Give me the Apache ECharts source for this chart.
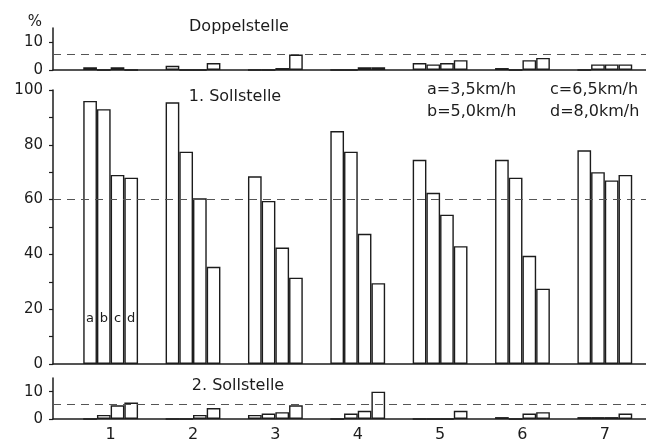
<!DOCTYPE html>
<html><head><meta charset="utf-8">
<script src="https://cdn.jsdelivr.net/npm/echarts@6/dist/echarts.min.js"></script>
<style>html,body{margin:0;padding:0;background:#fff}#c{width:646px;height:443px}</style>
</head><body><div id="c"></div>
<script>
const categories = [1, 2, 3, 4, 5, 6, 7];
const speedLetters = ['a', 'b', 'c', 'd'];
const speedNames = ['a=3,5km/h', 'b=5,0km/h', 'c=6,5km/h', 'd=8,0km/h'];

// Doppelstelle (%)
const doppelA = [1, 1.5, 0, 0, 2.5, 0.7, 0];
const doppelB = [0, 0, 0, 0, 2, 0, 2];
const doppelC = [1, 0, 0.7, 1, 2.5, 3.5, 2];
const doppelD = [0, 2.5, 5.5, 1, 3.5, 4.3, 2];

// 1. Sollstelle (%)
const soll1A = [96, 95.5, 68.5, 85, 74.5, 74.5, 78];
const soll1B = [93, 77.5, 59.5, 77.5, 62.5, 68, 70];
const soll1C = [69, 60.5, 42.5, 47.5, 54.5, 39.5, 67];
const soll1D = [68, 35.5, 31.5, 29.5, 43, 27.5, 69];

// 2. Sollstelle (%)
const soll2A = [0, 0, 1.5, 0, 0, 0.7, 0.7];
const soll2B = [1.5, 0, 2, 2, 0, 0, 0.7];
const soll2C = [5, 1.5, 2.5, 3, 0, 2, 0.7];
const soll2D = [6, 4, 5, 10, 3, 2.5, 2];

const refSmall = 5.5;
const refMain = 60;

const smallTicks = [0, 10];
const mainTicks = [0, 10, 20, 30, 40, 50, 60, 70, 80, 90, 100];
const mainLabels = [0, 20, 40, 60, 80, 100];

const INK = '#1c1c1c';
const FONT = 'DejaVu Sans';

function xAxisCfg(gridIndex, showLabels) {
  return {
    type: 'value', gridIndex, min: 0.3, max: 7.5,
    splitLine: {show: false},
    axisLine: {show: true, onZero: false, lineStyle: {color: INK, width: 1.5}},
    axisTick: {show: false},
    axisLabel: showLabels ? {
      show: true, customValues: categories, color: INK, fontFamily: FONT, fontSize: 16, margin: 8,
      formatter: v => String(v)
    } : {show: false}
  };
}
function yAxisCfg(gridIndex, max, ticks, labels) {
  return {
    type: 'value', gridIndex, min: 0, max,
    splitLine: {show: false},
    axisLine: {show: true, lineStyle: {color: INK, width: 1.5}},
    axisTick: {show: true, inside: false, length: 4, customValues: ticks, lineStyle: {color: INK, width: 1.2}},
    axisLabel: {show: true, customValues: labels, color: INK, fontFamily: FONT, fontSize: 15, margin: 10}
  };
}

function barSeries(arr, idx, gridIdx, withLetter, refLine) {
  const s = {
    type: 'bar', name: speedNames[idx], xAxisIndex: gridIdx, yAxisIndex: gridIdx,
    barWidth: 13.7, barGap: '0%',
    itemStyle: {color: '#fff', borderColor: INK, borderWidth: 1.4},
    data: arr.map((v, i) => {
      const d = {value: [categories[i], v]};
      if (withLetter && i === 0) {
        d.label = {show: true, position: 'insideBottom', offset: [0, -34], formatter: speedLetters[idx],
                   color: INK, fontFamily: FONT, fontSize: 13};
      }
      return d;
    }),
    animation: false
  };
  if (refLine !== undefined) {
    s.markLine = {
      silent: true, symbol: ['none', 'none'], label: {show: false},
      lineStyle: {color: '#555', type: [8, 6], width: 1},
      data: [{yAxis: refLine}], animation: false
    };
  }
  return s;
}

const grids = [
  {left: 53, right: -3, top: 28, height: 42},
  {left: 53, right: -3, top: 90, height: 274},
  {left: 53, right: -3, top: 378, height: 42}
];

const option = {
  backgroundColor: '#fff',
  animation: false,
  grid: grids,
  xAxis: [xAxisCfg(0, false), xAxisCfg(1, false), xAxisCfg(2, true)],
  yAxis: [yAxisCfg(0, 15, smallTicks, smallTicks), yAxisCfg(1, 100, mainTicks, mainLabels), yAxisCfg(2, 15, smallTicks, smallTicks)],
  series: [
    barSeries(doppelA, 0, 0, false, refSmall),
    barSeries(doppelB, 1, 0, false),
    barSeries(doppelC, 2, 0, false),
    barSeries(doppelD, 3, 0, false),
    barSeries(soll1A, 0, 1, true, refMain),
    barSeries(soll1B, 1, 1, true),
    barSeries(soll1C, 2, 1, true),
    barSeries(soll1D, 3, 1, true),
    barSeries(soll2A, 0, 2, false, refSmall),
    barSeries(soll2B, 1, 2, false),
    barSeries(soll2C, 2, 2, false),
    barSeries(soll2D, 3, 2, false)
  ],
  graphic: [
    {type: 'text', x: 35, y: 22, style: {text: '%', fill: INK, font: '15px ' + FONT, textAlign: 'center', textVerticalAlign: 'middle'}},
    {type: 'text', x: 239, y: 27, style: {text: 'Doppelstelle', fill: INK, font: '16px ' + FONT, textAlign: 'center', textVerticalAlign: 'middle'}},
    {type: 'text', x: 235, y: 97, style: {text: '1. Sollstelle', fill: INK, font: '16px ' + FONT, textAlign: 'center', textVerticalAlign: 'middle'}},
    {type: 'text', x: 238, y: 386, style: {text: '2. Sollstelle', fill: INK, font: '16px ' + FONT, textAlign: 'center', textVerticalAlign: 'middle'}},
    {type: 'text', x: 427, y: 90, style: {text: speedNames[0], fill: INK, font: '16px ' + FONT, textAlign: 'left', textVerticalAlign: 'middle'}},
    {type: 'text', x: 427, y: 112, style: {text: speedNames[1], fill: INK, font: '16px ' + FONT, textAlign: 'left', textVerticalAlign: 'middle'}},
    {type: 'text', x: 550, y: 90, style: {text: speedNames[2], fill: INK, font: '16px ' + FONT, textAlign: 'left', textVerticalAlign: 'middle'}},
    {type: 'text', x: 550, y: 112, style: {text: speedNames[3], fill: INK, font: '16px ' + FONT, textAlign: 'left', textVerticalAlign: 'middle'}}
  ]
};

const chart = echarts.init(document.getElementById('c'), null, {renderer: 'canvas'});
chart.setOption(option);
</script>
</body></html>
